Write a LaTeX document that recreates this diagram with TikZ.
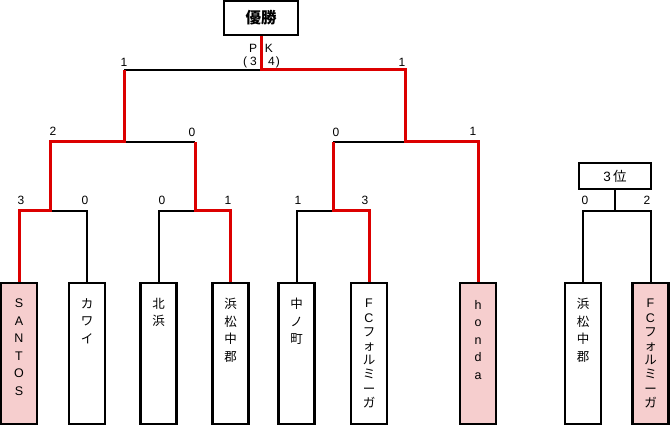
\documentclass[tikz,border=0pt]{standalone}
\usepackage{fontspec}
\setmainfont{Liberation Sans}
\newfontfamily\jp{Noto Sans CJK JP}
\definecolor{winred}{RGB}{220,0,0}
\definecolor{winpink}{RGB}{246,206,206}
\begin{document}
\begin{tikzpicture}[x=1pt,y=-1pt,
  team/.style={draw=black,line width=2.4pt,minimum width=36pt,minimum height=141pt,anchor=north,inner sep=0pt},
  winteam/.style={team,fill=winpink},
  vtext/.style={anchor=north,align=center,inner sep=0pt,font=\fontsize{12.5}{17.5}\selectfont},
  vtextfc/.style={anchor=north,align=center,inner sep=0pt,font=\fontsize{12.5}{14.2}\selectfont},
  title/.style={draw=black,line width=2.4pt,inner sep=0pt,fill=white},
  score/.style={font=\fontsize{12}{12}\selectfont,inner sep=0pt},
  lose/.style={draw=black,line width=2pt,line join=miter},
  win/.style={draw=winred,line width=3pt,line join=miter}
]
\useasboundingbox (0,0) rectangle (670,425);
% team boxes
\node[winteam] (t1) at (19,282) {};
\node[team] (t2) at (87,282) {};
\node[team] (t3) at (158.5,282) {};
\node[team] (t4) at (230.5,282) {};
\node[team] (t5) at (296.5,282) {};
\node[team] (t6) at (369,282) {};
\node[winteam] (t7) at (478,282) {};
\node[team] (t8) at (583,282) {};
\node[winteam] (t9) at (650.5,282) {};
% team names
\node[vtext] (n1) at (19,299) {S\\A\\N\\T\\O\\S};
\node[vtext] (n2) at (87,298) {\jp カ\\\jp ワ\\\jp イ};
\node[vtext] (n3) at (158.5,298) {\jp 北\\\jp 浜};
\node[vtext] (n4) at (230.5,298) {\jp 浜\\\jp 松\\\jp 中\\\jp 郡};
\node[vtext] (n5) at (296.5,298) {\jp 中\\\jp ノ\\\jp 町};
\node[vtextfc] (n6) at (369,299) {F\\C\\\jp フ\\\jp ォ\\\jp ル\\\jp ミ\\\jp ー\\\jp ガ};
\node[vtext] (n7) at (478,300) {h\\o\\n\\d\\a};
\node[vtext] (n8) at (583,298) {\jp 浜\\\jp 松\\\jp 中\\\jp 郡};
\node[vtextfc] (n9) at (650.5,299) {F\\C\\\jp フ\\\jp ォ\\\jp ル\\\jp ミ\\\jp ー\\\jp ガ};
% title boxes
\node[title,minimum width=74pt,minimum height=34pt] (w) at (261,18) {\jp\bfseries\fontsize{15.5}{15.5}\selectfont 優勝};
\node[title,minimum width=72pt,minimum height=26pt] (b3) at (615,176) {\fontsize{13.5}{13.5}\selectfont 3\,{\jp 位}};
% junctions
\coordinate (j1) at (50,211);
\coordinate (j2) at (195,211);
\coordinate (j3) at (333,211);
\coordinate (k1) at (124,142);
\coordinate (k2) at (405,142);
\coordinate (f) at (261,70);
\coordinate (c) at (615,211);
% losing lines
\draw[lose] (j1) -- (t2.north |- j1) -- (t2.north);
\draw[lose] (j2) -- (t3.north |- j2) -- (t3.north);
\draw[lose] (j3) -- (t5.north |- j3) -- (t5.north);
\draw[lose] (k1) -- (j2 |- k1);
\draw[lose] (k2) -- (j3 |- k2);
\draw[lose] (f) -- (k1 |- f);
\draw[lose] (b3.south) -- (c);
\draw[lose] (t8.north) -- (t8.north |- c) -- (t9.north |- c) -- (t9.north);
% winning lines
\draw[win] (t1.north) -- (t1.north |- j1) -- (j1) -- (j1 |- k1) -- (k1) -- (k1 |- f);
\draw[win] (t4.north) -- (t4.north |- j2) -- (j2) -- (j2 |- k1);
\draw[win] (t6.north) -- (t6.north |- j3) -- (j3) -- (j3 |- k2);
\draw[win] (t7.north) -- (t7.north |- k2) -- (k2) -- (k2 |- f) -- (f) -- (w.south);
% scores
\node[score] (s1) at (21,200) {3};
\node[score] (s2) at (85,200) {0};
\node[score] (s3) at (162,200) {0};
\node[score] (s4) at (228,200) {1};
\node[score] (s5) at (298,200) {1};
\node[score] (s6) at (365,200) {3};
\node[score] (s7) at (53,131) {2};
\node[score] (s8) at (192,132) {0};
\node[score] (s9) at (336,132) {0};
\node[score] (s10) at (473,131) {1};
\node[score] (s11) at (124,62) {1};
\node[score] (s12) at (402,62) {1};
\node[score] (s13) at (585,200) {0};
\node[score] (s14) at (647,200) {2};
\node[score] (pk1) at (253,48) {P};
\node[score] (pk2) at (269,48) {K};
\node[score] (pk3) at (250,62) {(\hspace{3pt}3};
\node[score] (pk4) at (274,62) {4\hspace{1pt})};
\end{tikzpicture}
\end{document}
